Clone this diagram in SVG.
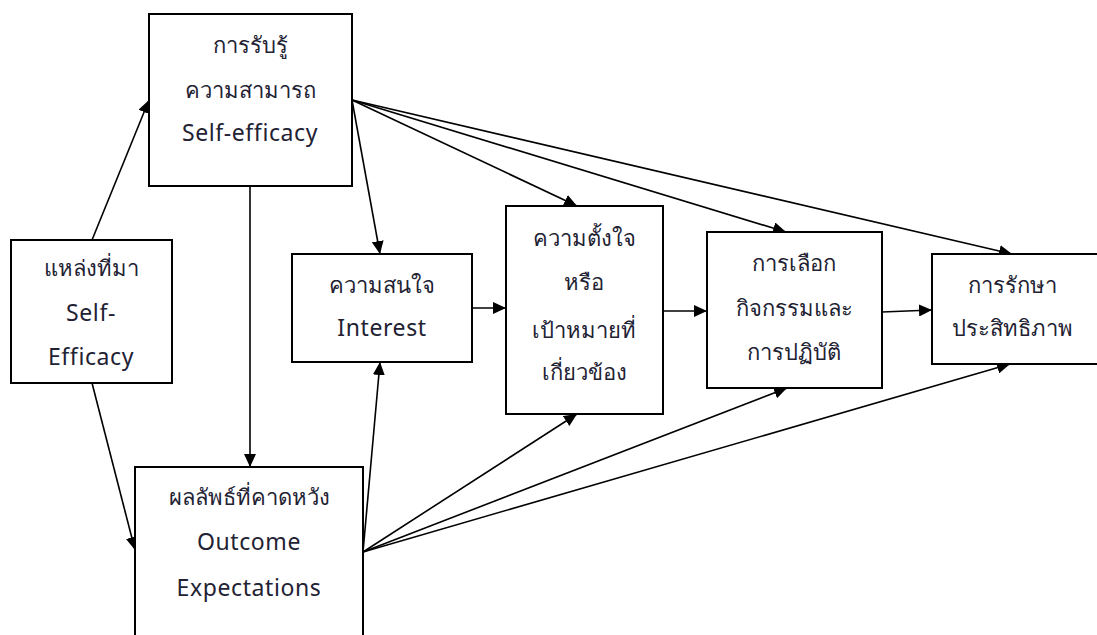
<svg xmlns="http://www.w3.org/2000/svg" width="1097" height="635" viewBox="0 0 1097 635">
<style>
.box{fill:#fff;stroke:#000;stroke-width:2}
.t{font-family:"Noto Sans","DejaVu Sans",sans-serif;font-size:22px;fill:#222233;text-anchor:middle}
.l{font-size:23px;letter-spacing:0.6px}
.c{stroke:#000;stroke-width:1.6;fill:none;marker-end:url(#ah)}
</style>
<defs>
<marker id="ah" viewBox="0 0 13 12" refX="13" refY="6" markerWidth="13" markerHeight="12" markerUnits="userSpaceOnUse" orient="auto">
<path d="M0,0 L13,6 L0,12 Z" fill="#000"/>
</marker>
</defs>
<rect width="1097" height="635" fill="#fff"/>
<g id="connectors">
<line class="c" x1="92" y1="240" x2="149" y2="100"/>
<line class="c" x1="92" y1="383" x2="135" y2="550"/>
<line class="c" x1="250" y1="186" x2="250" y2="467"/>
<line class="c" x1="352" y1="100" x2="380" y2="254"/>
<line class="c" x1="352" y1="100" x2="577" y2="206"/>
<line class="c" x1="352" y1="100" x2="786" y2="232"/>
<line class="c" x1="352" y1="100" x2="1012" y2="254"/>
<line class="c" x1="363" y1="552" x2="380" y2="362"/>
<line class="c" x1="363" y1="552" x2="577" y2="414"/>
<line class="c" x1="363" y1="552" x2="787" y2="388"/>
<line class="c" x1="363" y1="552" x2="1010" y2="364"/>
<line class="c" x1="472" y1="308" x2="506" y2="308"/>
<line class="c" x1="663" y1="311" x2="707" y2="311"/>
<line class="c" x1="882" y1="312" x2="932" y2="310"/>
</g>
<g id="selfefficacy">
<rect class="box" x="149" y="14" width="203" height="172"/>
<text class="t" x="250" y="53">การรับรู้</text>
<text class="t" x="250" y="98">ความสามารถ</text>
<text class="t l" x="250" y="141">Self-efficacy</text>
</g>
<g id="sources">
<rect class="box" x="11" y="240" width="161" height="143"/>
<text class="t" x="91" y="276">แหล่งที่มา</text>
<text class="t l" x="91" y="321">Self-</text>
<text class="t l" x="91" y="365">Efficacy</text>
</g>
<g id="outcome">
<rect class="box" x="135" y="467" width="228" height="190"/>
<text class="t" x="249" y="505">ผลลัพธ์ที่คาดหวัง</text>
<text class="t l" x="249" y="550">Outcome</text>
<text class="t l" x="249" y="596">Expectations</text>
</g>
<g id="interest">
<rect class="box" x="292" y="254" width="180" height="108"/>
<text class="t" x="382" y="293">ความสนใจ</text>
<text class="t l" x="382" y="336">Interest</text>
</g>
<g id="goals">
<rect class="box" x="506" y="206" width="157" height="208"/>
<text class="t" x="584" y="246">ความตั้งใจ</text>
<text class="t" x="584" y="290">หรือ</text>
<text class="t" x="584" y="338">เป้าหมายที่</text>
<text class="t" x="584" y="380">เกี่ยวข้อง</text>
</g>
<g id="choice">
<rect class="box" x="707" y="232" width="175" height="156"/>
<text class="t" x="794" y="271">การเลือก</text>
<text class="t" x="794" y="316">กิจกรรมและ</text>
<text class="t" x="794" y="360">การปฏิบัติ</text>
</g>
<g id="maintenance">
<rect class="box" x="932" y="254" width="180" height="110"/>
<text class="t" x="1012" y="293">การรักษา</text>
<text class="t" x="1012" y="336">ประสิทธิภาพ</text>
</g>
</svg>
